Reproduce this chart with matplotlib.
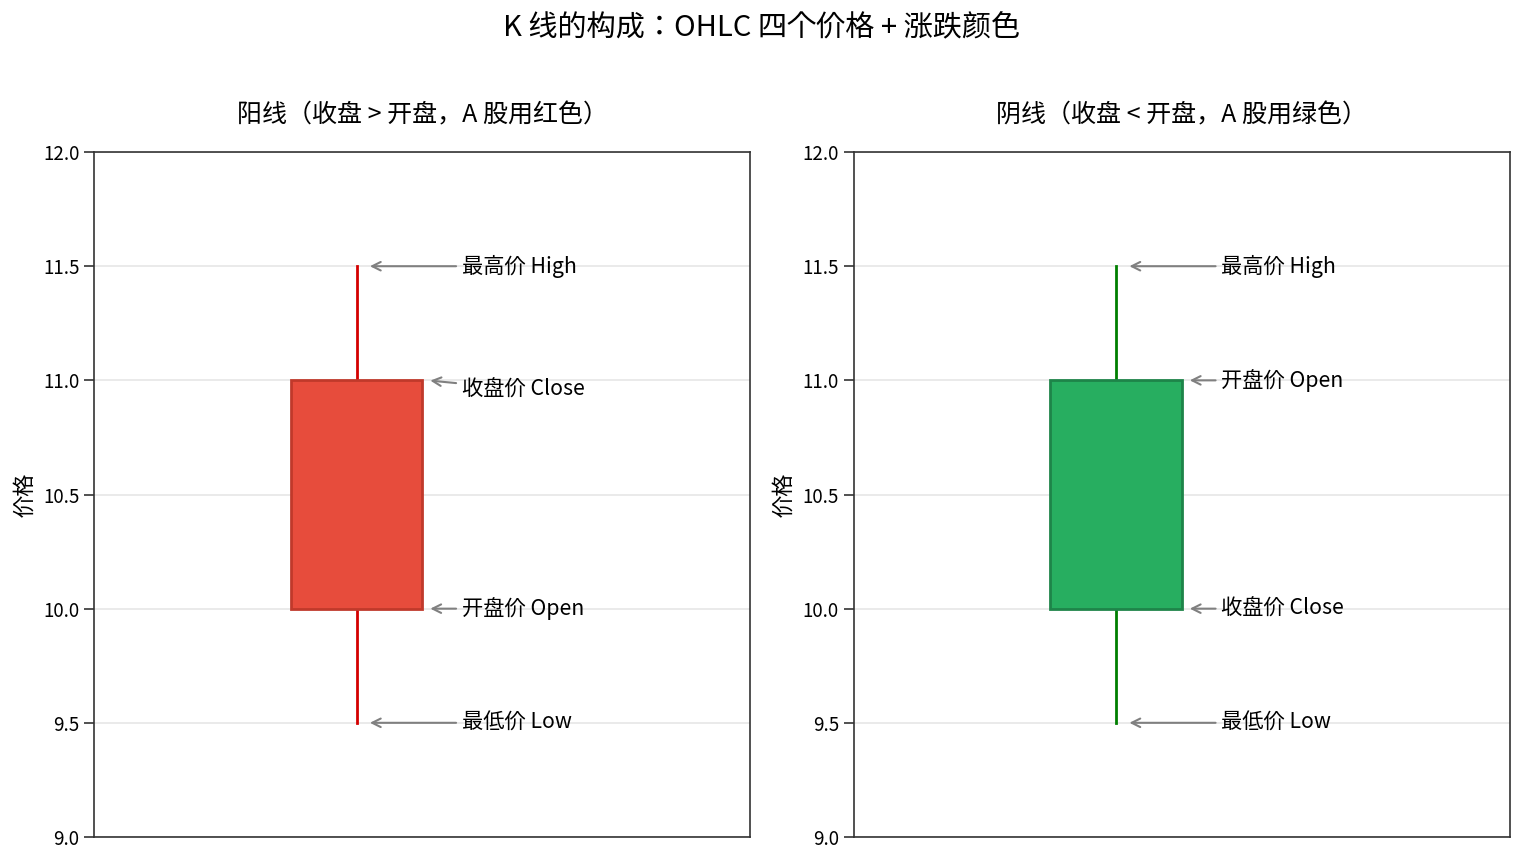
import matplotlib
matplotlib.use("Agg")
import matplotlib.pyplot as plt
from matplotlib.patches import Rectangle

plt.rcParams['font.family'] = ['Noto Sans CJK JP', 'DejaVu Sans']
plt.rcParams['axes.unicode_minus'] = False

# 数据
titles = ["阳线（收盘 > 开盘，A 股用红色）", "阴线（收盘 < 开盘，A 股用绿色）"]
opens = [10.0, 11.0]
closes = [11.0, 10.0]
highs = [11.5, 11.5]
lows = [9.5, 9.5]
body_colors = ["#e74c3c", "#27ae60"]
edge_colors = ["#c0392b", "#1e8449"]
wick_colors = ["#d40000", "#007f00"]
yticks = [9.0, 9.5, 10.0, 10.5, 11.0, 11.5, 12.0]

fig, axes = plt.subplots(1, 2, figsize=(15.24, 8.64), dpi=100)
fig.subplots_adjust(left=0.0617, right=0.9908, bottom=0.0313, top=0.824, wspace=0.157)
fig.suptitle("K 线的构成：OHLC 四个价格 + 涨跌颜色", fontsize=21, y=0.984)

x = 0
w = 0.5
fs = 15.3
for i, ax in enumerate(axes):
    o, c, h, l = opens[i], closes[i], highs[i], lows[i]
    # 影线
    ax.plot([x, x], [l, h], color=wick_colors[i], lw=2, zorder=2)
    # 实体
    ax.add_patch(Rectangle((x - w / 2, min(o, c)), w, abs(c - o),
                           facecolor=body_colors[i], edgecolor=edge_colors[i],
                           lw=2, zorder=3))

    arrow = dict(arrowstyle="->", color="gray", lw=1.5)
    ax.annotate("最高价 High", xy=(x + 0.04, h), xytext=(0.4, h),
                va="center", fontsize=fs, arrowprops=arrow)
    ax.annotate("最低价 Low", xy=(x + 0.04, l), xytext=(0.4, l),
                va="center", fontsize=fs, arrowprops=arrow)
    if c > o:
        ax.annotate("收盘价 Close", xy=(x + w / 2 + 0.02, c), xytext=(0.4, c - 0.04),
                    va="center", fontsize=fs, arrowprops=arrow)
        ax.annotate("开盘价 Open", xy=(x + w / 2 + 0.02, o), xytext=(0.4, o),
                    va="center", fontsize=fs, arrowprops=arrow)
    else:
        ax.annotate("开盘价 Open", xy=(x + w / 2 + 0.02, o), xytext=(0.4, o),
                    va="center", fontsize=fs, arrowprops=arrow)
        ax.annotate("收盘价 Close", xy=(x + w / 2 + 0.02, c), xytext=(0.4, c),
                    va="center", fontsize=fs, arrowprops=arrow)

    ax.set_xlim(-1, 1.5)
    ax.set_ylim(9, 12)
    ax.set_yticks(yticks)
    ax.set_yticklabels([f"{v:.1f}" for v in yticks], fontsize=13.5)
    ax.set_xticks([])
    ax.set_ylabel("价格", fontsize=16, labelpad=5)
    ax.set_title(titles[i], fontsize=18, pad=21)
    ax.grid(axis="y", color="#e6e6e6", lw=1.2)
    ax.set_axisbelow(True)
    for s in ax.spines.values():
        s.set_color("#333333")
        s.set_linewidth(1.2)
    ax.tick_params(axis="y", length=7, width=1.2, color="#333333")

fig.savefig("out.png", dpi=100)
